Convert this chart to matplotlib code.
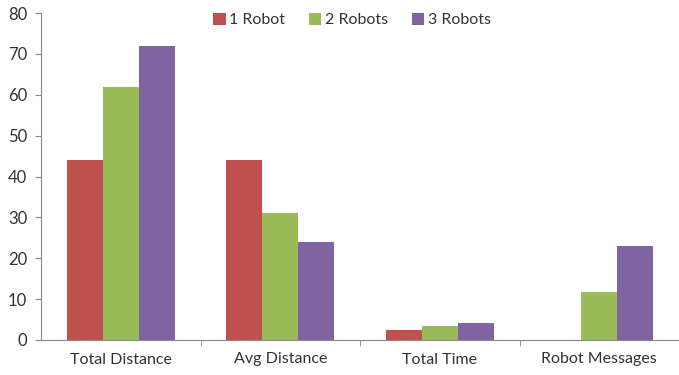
import matplotlib
matplotlib.use("Agg")
import matplotlib.pyplot as plt
import numpy as np

categories = ["Total Distance", "Avg Distance", "Total Time", "Robot Messages"]
series_names = ["1 Robot", "2 Robots", "3 Robots"]
robot1 = [44, 44, 2.4, 0]
robot2 = [62, 31, 3.4, 11.8]
robot3 = [72, 24, 4.2, 23]
colors = ["#C0504D", "#9BBB59", "#8064A2"]

plt.rcParams['font.family'] = ['Lato', 'DejaVu Sans']

fig = plt.figure(figsize=(6.79, 3.75), dpi=100)
ax = fig.add_axes([41/679, 1-340/375, 1-41/679, (340-13)/375])

x = np.arange(len(categories))
w = 0.225
for i, (vals, name) in enumerate(zip([robot1, robot2, robot3], series_names)):
    ax.bar(x + (i-1)*w, vals, width=w, color=colors[i], label=name, zorder=2)

ax.set_xlim(-0.5, len(categories)-0.5)
ax.set_ylim(0, 80)
ax.set_yticks(range(0, 81, 10))
ax.set_xticks(x)
ax.set_xticklabels(categories, fontsize=11.5)
ax.tick_params(axis='x', length=0, pad=9, colors='#333333')
ax.set_xticks(np.arange(0.5, len(categories)-0.5, 1), minor=True)
ax.tick_params(axis='x', which='minor', length=4, color='#888888', direction='out')
ax.tick_params(axis='y', labelsize=12, length=4, color='#888888', labelcolor='#333333', pad=6)
for s in ['top', 'right']:
    ax.spines[s].set_visible(False)
for s in ['left', 'bottom']:
    ax.spines[s].set_color('#888888')

leg = ax.legend(loc='upper center', bbox_to_anchor=(0.487, 1.045), ncol=3, frameon=False,
          fontsize=11.5, handlelength=0.8, handleheight=0.8, handletextpad=0.2,
          columnspacing=1.5)
for t in leg.get_texts():
    t.set_color('#333333')

fig.savefig("out.png", dpi=100)
